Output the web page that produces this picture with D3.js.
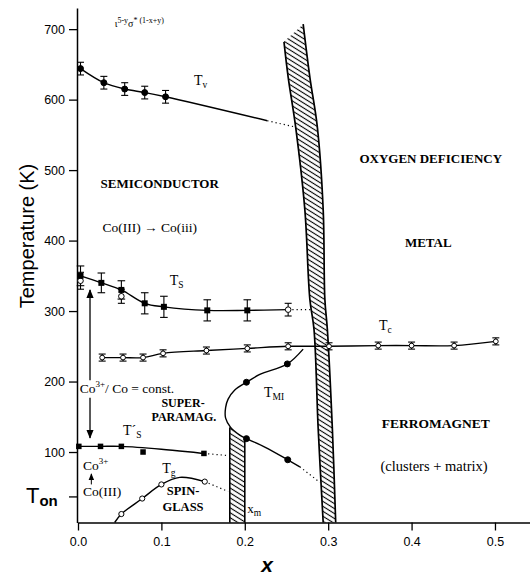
<!DOCTYPE html>
<html><head><meta charset="utf-8">
<script src="https://cdn.jsdelivr.net/npm/d3@7"></script>
<style>body{margin:0;background:#fff}</style>
</head><body>
<svg id="c" width="530" height="579"></svg>
<script>
// ---------- data (x = composition, T in K) ----------
const xTicks = [0.0, 0.1, 0.2, 0.3, 0.4, 0.5];
const yTicks = [100, 200, 300, 400, 500, 600, 700];
const tonTick = 37;

// T_v
const tvX   = [0.003, 0.031, 0.056, 0.080, 0.105];
const tvT   = [644, 624, 615, 610, 604];
const tvErr = [9, 9, 9, 9, 9];
const tvFitX = [0.003, 0.031, 0.056, 0.080, 0.105, 0.227];
const tvFitT = [644, 624, 615, 610, 604, 570];
const tvDotX = [0.227, 0.261];
const tvDotT = [570, 561];

// T_S (filled squares) and open circles
const tsX   = [0.003, 0.028, 0.052, 0.080, 0.103, 0.155, 0.203];
const tsT   = [350, 340, 330, 311, 306, 301, 301];
const tsErr = [14, 14, 13, 15, 15, 15, 15];
const tsOpenX   = [0.003, 0.052, 0.252];
const tsOpenT   = [343, 321, 302];
const tsOpenErr = [12, 10, 9];
const tsFitX = [0.003, 0.028, 0.052, 0.080, 0.103, 0.155, 0.203, 0.252];
const tsFitT = [350, 340, 330, 311, 306, 301, 301, 302];
const tsDotX = [0.252, 0.281];
const tsDotT = [302, 302];

// T_c
const tcX   = [0.029, 0.054, 0.078, 0.102, 0.154, 0.203, 0.252, 0.301, 0.360, 0.400, 0.451, 0.501];
const tcT   = [234, 234, 234, 240, 244, 247, 250, 250, 251, 251, 251, 257];
const tcErr = [5, 5, 5, 5, 5, 5, 5, 5, 5, 5, 5, 5];

// T'_S
const tspX = [0.001, 0.027, 0.052, 0.078, 0.151];
const tspT = [108, 108, 108, 100, 98];
const tspFitX = [0.001, 0.027, 0.052, 0.100, 0.151];
const tspFitT = [108, 108, 108, 104, 98];
const tspDotX = [0.151, 0.180];
const tspDotT = [98, 95];

// T_g
const tgX = [0.052, 0.077, 0.100, 0.152];
const tgT = [12, 34, 54, 58];
const tgFitX = [0.044, 0.052, 0.077, 0.100, 0.122, 0.152];
const tgFitT = [0, 12, 34, 54, 64, 58];
const tgDotX = [0.152, 0.180];
const tgDotT = [58, 44];

// T_MI
const tmiX = [0.251, 0.202, 0.202, 0.2515];
const tmiT = [225, 199, 119, 89];
const tmiFitX = [0.270, 0.251, 0.218, 0.202, 0.188, 0.180, 0.177, 0.177, 0.183, 0.194, 0.202, 0.224, 0.2515, 0.266];
const tmiFitT = [246, 225, 210, 199, 188, 175, 163, 148, 135, 124, 119, 107, 89, 79];
const tmiDotX = [0.266, 0.290];
const tmiDotT = [79, 57];

// hatched boundary bands
const band1LeftX  = [0.294, 0.288, 0.283, 0.278, 0.272, 0.261, 0.252, 0.247];
const band1LeftT  = [0, 133, 274, 317, 444, 561, 632, 682];
const band1RightX = [0.270, 0.278, 0.287, 0.294, 0.296, 0.299, 0.305, 0.309];
const band1RightT = [707, 632, 561, 444, 317, 274, 133, 0];
const band2X = [0.182, 0.182, 0.188, 0.194, 0.200, 0.200];
const band2T = [0, 135, 128, 124, 119, 0];

// ---------- drawing ----------
const svg = d3.select("#c");
const x = d3.scaleLinear().domain([0, 0.542]).range([78, 530]);
const y = d3.scaleLinear().domain([0, 730]).range([522.5, 8]);
const serif = "'Liberation Serif','Times New Roman',serif";
const sans = "'Liberation Sans',Arial,sans-serif";
const zip = (a, b) => a.map((v, i) => [v, b[i]]);

const defs = svg.append("defs");
const pat = defs.append("pattern").attr("id", "hatch").attr("patternUnits", "userSpaceOnUse")
  .attr("width", 10).attr("height", 4.2).attr("patternTransform", "rotate(32)");
pat.append("line").attr("x1", 0).attr("x2", 10).attr("y1", 2.1).attr("y2", 2.1)
  .attr("stroke", "#000").attr("stroke-width", 1.1);
defs.append("marker").attr("id", "arr").attr("viewBox", "0 0 10 10").attr("refX", 9).attr("refY", 5)
  .attr("markerWidth", 7).attr("markerHeight", 7).attr("orient", "auto-start-reverse")
  .append("path").attr("d", "M0,1 L10,5 L0,9 Z").attr("fill", "#000");

const lineC = d3.line().x(d => x(d[0])).y(d => y(d[1])).curve(d3.curveCatmullRom.alpha(0.5));
const lineL = d3.line().x(d => x(d[0])).y(d => y(d[1]));

// band 1
const b1 = zip(band1LeftX, band1LeftT).concat(zip(band1RightX, band1RightT));
svg.append("path").attr("d", lineL(b1) + "Z").attr("fill", "url(#hatch)").attr("stroke", "none");
svg.append("path").attr("d", lineC(zip(band1LeftX, band1LeftT))).attr("fill", "none").attr("stroke", "#000").attr("stroke-width", 1.7);
svg.append("path").attr("d", lineC(zip(band1RightX, band1RightT))).attr("fill", "none").attr("stroke", "#000").attr("stroke-width", 1.7);
// band 2
const b2 = zip(band2X, band2T);
svg.append("path").attr("d", lineL(b2) + "Z").attr("fill", "url(#hatch)").attr("stroke", "none");
svg.append("path").attr("d", lineL(b2.slice(0, 2))).attr("stroke", "#000").attr("stroke-width", 1.6).attr("fill", "none");
svg.append("path").attr("d", lineL(b2.slice(4, 6))).attr("stroke", "#000").attr("stroke-width", 1.6).attr("fill", "none");

// axes
const gx = svg.append("g").attr("transform", `translate(0,${y(0)})`)
  .call(d3.axisBottom(x).tickValues(xTicks).tickSize(8).tickSizeOuter(0).tickPadding(7).tickFormat(d3.format(".1f")));
gx.select(".domain").attr("stroke-width", 1.5);
gx.selectAll(".tick line").attr("stroke-width", 1.3);
gx.selectAll("text").attr("font-family", sans).attr("font-size", 12.5);
const gy = svg.append("g").attr("transform", `translate(${x(0) - 1},0)`)
  .call(d3.axisLeft(y).tickValues(yTicks.concat([tonTick])).tickSize(8).tickSizeOuter(0).tickPadding(4)
    .tickFormat(d => d === tonTick ? "" : d));
gy.select(".domain").attr("stroke-width", 1.5);
gy.selectAll(".tick line").attr("stroke-width", 1.3);
gy.selectAll("text").attr("font-family", sans).attr("font-size", 12.5);

svg.append("text").attr("transform", `translate(34,${236}) rotate(-90)`).attr("text-anchor", "middle")
  .attr("font-family", sans).attr("font-size", 20).text("Temperature (K)");
const ton = svg.append("text").attr("x", 26).attr("y", 503).attr("font-family", sans).attr("font-size", 22).text("T");
ton.append("tspan").attr("font-size", 15).attr("font-weight", "bold").attr("dy", 3).text("on");
svg.append("text").attr("x", 267).attr("y", 572).attr("text-anchor", "middle").attr("font-family", sans)
  .attr("font-size", 21).attr("font-weight", "bold").attr("font-style", "italic").text("x");

// lines
function drawLine(xs, ts, dotted) {
  svg.append("path").attr("d", lineC(zip(xs, ts))).attr("fill", "none").attr("stroke", "#000")
    .attr("stroke-width", dotted ? 1.2 : 1.4).attr("stroke-dasharray", dotted ? "1.2,3" : null);
}
drawLine(tvFitX, tvFitT); drawLine(tvDotX, tvDotT, true);
drawLine(tsFitX, tsFitT); drawLine(tsDotX, tsDotT, true);
drawLine(tcX, tcT);
drawLine(tspFitX, tspFitT); drawLine(tspDotX, tspDotT, true);
drawLine(tgFitX, tgFitT); drawLine(tgDotX, tgDotT, true);
drawLine(tmiFitX, tmiFitT); drawLine(tmiDotX, tmiDotT, true);

// error bars
function errBars(xs, ts, es, cap) {
  xs.forEach((xv, i) => {
    const cx = x(xv), y1 = y(ts[i] - es[i]), y2 = y(ts[i] + es[i]);
    const g = svg.append("g").attr("stroke", "#000").attr("stroke-width", 1.1);
    g.append("line").attr("x1", cx).attr("x2", cx).attr("y1", y1).attr("y2", y2);
    g.append("line").attr("x1", cx - cap).attr("x2", cx + cap).attr("y1", y1).attr("y2", y1);
    g.append("line").attr("x1", cx - cap).attr("x2", cx + cap).attr("y1", y2).attr("y2", y2);
  });
}
errBars(tvX, tvT, tvErr, 3.5);
errBars(tsX, tsT, tsErr, 3.8);
errBars(tsOpenX, tsOpenT, tsOpenErr, 3.5);
errBars(tcX, tcT, tcErr, 3.5);

// markers
function circles(xs, ts, r, fill) {
  svg.append("g").selectAll("circle").data(zip(xs, ts)).join("circle")
    .attr("cx", d => x(d[0])).attr("cy", d => y(d[1])).attr("r", r)
    .attr("fill", fill).attr("stroke", "#000").attr("stroke-width", 1);
}
function squares(xs, ts, s) {
  svg.append("g").selectAll("rect").data(zip(xs, ts)).join("rect")
    .attr("x", d => x(d[0]) - s / 2).attr("y", d => y(d[1]) - s / 2).attr("width", s).attr("height", s)
    .attr("fill", "#000");
}
circles(tvX, tvT, 3, "#000");
circles(tsOpenX, tsOpenT, 2.8, "#fff");
squares(tsX, tsT, 6);
circles(tcX, tcT, 2.4, "#fff");
squares(tspX, tspT, 5.5);
circles(tgX, tgT, 2.6, "#fff");
circles(tmiX, tmiT, 3, "#000");

// labels with subscripts
function subLabel(xv, tv, main, sub, size) {
  const t = svg.append("text").attr("x", x(xv)).attr("y", y(tv)).attr("font-family", serif).attr("font-size", size || 14).text(main);
  t.append("tspan").attr("font-size", 9.5).attr("dy", 3).text(sub);
}
subLabel(0.139, 621, "T", "v");
subLabel(0.110, 337, "T", "S");
subLabel(0.361, 273, "T", "c");
subLabel(0.223, 178, "T", "MI");
subLabel(0.054, 124, "T\u00b4", "S");
subLabel(0.101, 70, "T", "g");
subLabel(0.203, 13.5, "x", "m", 13);

// region labels
function label(xv, tv, txt, bold, size, anchor) {
  return svg.append("text").attr("x", x(xv)).attr("y", y(tv)).attr("text-anchor", anchor || "middle")
    .attr("font-family", serif).attr("font-weight", bold ? "bold" : "normal").attr("font-size", size || 13).text(txt);
}
label(0.098, 474.6, "SEMICONDUCTOR", true, 13);
label(0.423, 510, "OXYGEN DEFICIENCY", true, 13);
label(0.420, 391, "METAL", true, 13);
label(0.429, 134, "FERROMAGNET", true, 13.5);
label(0.427, 73, "(clusters + matrix)", false, 14.5);
label(0.086, 412, "Co(III) \u2192 Co(iii)", false, 13.5);
label(0.126, 164, "SUPER-", true, 12);
label(0.127, 144, "PARAMAG.", true, 12);
label(0.126, 39, "SPIN-", true, 12.5);
label(0.126, 16.3, "GLASS", true, 12.5);
const cc = label(0.002, 183.7, "Co", false, 13.5, "start");
cc.append("tspan").attr("font-size", 9).attr("dy", -6).text("3+");
cc.append("tspan").attr("dy", 6).text("/ Co = const.");
const c3 = label(0.006, 74.5, "Co", false, 13.5, "start");
c3.append("tspan").attr("font-size", 9).attr("dy", -6).text("3+");
label(0.006, 37.6, "Co(III)", false, 13.5, "start");
const fm = label(0.044, 703, "\u03b9", false, 10, "start");
fm.append("tspan").attr("font-size", 8).attr("dy", -4).text("5-y");
fm.append("tspan").attr("font-size", 10).attr("dy", 4).text("\u03c3");
fm.append("tspan").attr("font-size", 8).attr("dy", -4).text("* (1-x+y)");

// arrows
function arrow(xv, t1, t2, w) {
  svg.append("line").attr("x1", x(xv)).attr("x2", x(xv)).attr("y1", y(t1)).attr("y2", y(t2))
    .attr("stroke", "#000").attr("stroke-width", w || 1.3).attr("marker-end", "url(#arr)");
}
arrow(0.0144, 202, 330);
arrow(0.0144, 177, 120);
arrow(0.016, 54, 69, 1);
</script>
</body></html>
